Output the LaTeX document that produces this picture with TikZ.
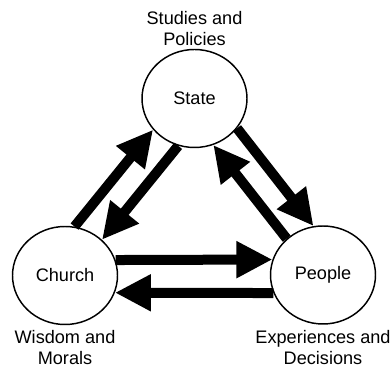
\documentclass[tikz,border=0pt]{standalone}
\usepackage{fontspec}
\setmainfont{Liberation Sans}
\usetikzlibrary{arrows.meta, positioning, shapes.geometric}

\begin{document}
\begin{tikzpicture}[x=0.75pt, y=0.75pt,
    place/.style={draw, ellipse, line width=1.1pt, minimum width=78.75pt, minimum height=73.5pt, inner sep=0pt, font=\fontsize{13.6}{15.75}\selectfont},
    note/.style={align=center, inner sep=0pt, font=\fontsize{13.6}{15.75}\selectfont},
    flow/.style={line width=7.5pt, -{Triangle[length=27pt, width=26pt]}}]
    \useasboundingbox (0,0) rectangle (392,366);

    % actors
    \node[place] (state) at (194.5,267.5) {State};
    \node[place] (church) at (65,90.5) {Church};
    \node[place] (people) at (323,91) {People};

    % what each one brings
    \node[note, above=2pt of state] (stateNote) {Studies and\\Policies};
    \node[note, below=4pt of church] (churchNote) {Wisdom and\\Morals};
    \node[note, below=4pt of people] (peopleNote) {Experiences and\\Decisions};

    % influences
    \draw[flow] (church.79) -- (state.217);
    \draw[flow] (state.251) -- (church.44);
    \draw[flow] (state.325) -- (people.101);
    \draw[flow] (people.135) -- (state.292);
    \draw[flow] (church.17) -- (people.163);
    \draw[flow] (people.200) -- (church.341);
\end{tikzpicture}
\end{document}
